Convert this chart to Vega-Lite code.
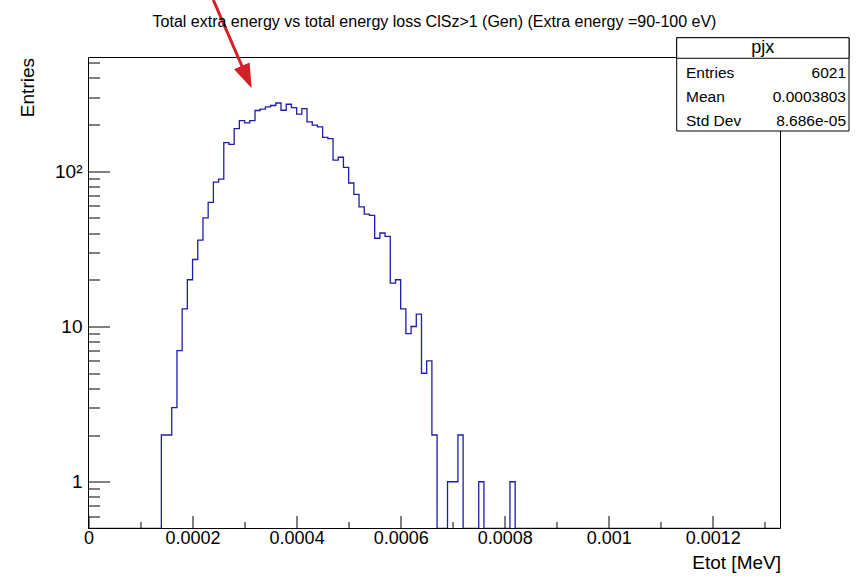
{
  "$schema": "https://vega.github.io/schema/vega-lite/v6.json",
  "width": 692,
  "height": 471,
  "autosize": {"type": "none"},
  "padding": {"left": 88.5, "top": 57.5, "right": 76.5, "bottom": 52.5},
  "background": "white",
  "config": {"view": {"stroke": null}, "font": "Liberation Sans"},
  "title": {
    "text": "Total extra energy vs total energy loss ClSz>1  (Gen) (Extra energy =90-100 eV)",
    "font": "Liberation Sans", "fontSize": 16, "fontWeight": "normal", "color": "#000",
    "anchor": "middle", "frame": "group", "offset": -44.5, "baseline": "alphabetic"
  },
  "resolve": {"scale": {"y": "independent"}},
  "layer": [
    {
      "data": {"values": [
        {"x": 0, "n": 0},
        {"x": 0.00014, "n": 2}, {"x": 0.00015, "n": 2}, {"x": 0.00016, "n": 3}, {"x": 0.00017, "n": 7},
        {"x": 0.00018, "n": 13}, {"x": 0.00019, "n": 20}, {"x": 0.0002, "n": 27}, {"x": 0.00021, "n": 36},
        {"x": 0.00022, "n": 50}, {"x": 0.00023, "n": 63}, {"x": 0.00024, "n": 85}, {"x": 0.00025, "n": 89},
        {"x": 0.00026, "n": 153}, {"x": 0.00027, "n": 149}, {"x": 0.00028, "n": 188}, {"x": 0.00029, "n": 212},
        {"x": 0.0003, "n": 205}, {"x": 0.00031, "n": 212}, {"x": 0.00032, "n": 246}, {"x": 0.00033, "n": 251},
        {"x": 0.00034, "n": 260}, {"x": 0.00035, "n": 265}, {"x": 0.00036, "n": 275}, {"x": 0.00037, "n": 247},
        {"x": 0.00038, "n": 270}, {"x": 0.00039, "n": 257}, {"x": 0.0004, "n": 233}, {"x": 0.00041, "n": 253},
        {"x": 0.00042, "n": 208}, {"x": 0.00043, "n": 198}, {"x": 0.00044, "n": 193}, {"x": 0.00045, "n": 165},
        {"x": 0.00046, "n": 162}, {"x": 0.00047, "n": 118}, {"x": 0.00048, "n": 123}, {"x": 0.00049, "n": 106},
        {"x": 0.0005, "n": 84}, {"x": 0.00051, "n": 71}, {"x": 0.00052, "n": 59}, {"x": 0.00053, "n": 53},
        {"x": 0.00054, "n": 52}, {"x": 0.00055, "n": 37}, {"x": 0.00056, "n": 40}, {"x": 0.00057, "n": 38},
        {"x": 0.00058, "n": 19}, {"x": 0.00059, "n": 20}, {"x": 0.0006, "n": 13}, {"x": 0.00061, "n": 9},
        {"x": 0.00062, "n": 10}, {"x": 0.00063, "n": 12}, {"x": 0.00064, "n": 5}, {"x": 0.00065, "n": 6},
        {"x": 0.00066, "n": 2}, {"x": 0.00067, "n": 0}, {"x": 0.00068, "n": 0}, {"x": 0.00069, "n": 1},
        {"x": 0.0007, "n": 1}, {"x": 0.00071, "n": 2}, {"x": 0.00072, "n": 0}, {"x": 0.00073, "n": 0},
        {"x": 0.00074, "n": 0}, {"x": 0.00075, "n": 1}, {"x": 0.00076, "n": 0}, {"x": 0.00077, "n": 0},
        {"x": 0.00078, "n": 0}, {"x": 0.00079, "n": 0}, {"x": 0.0008, "n": 0}, {"x": 0.00081, "n": 1},
        {"x": 0.00082, "n": 0}, {"x": 0.00133, "n": 0}
      ]},
      "mark": {"type": "line", "interpolate": "step-after", "color": "#1e1ea6", "strokeWidth": 1.3, "clip": true},
      "encoding": {
        "x": {
          "field": "x", "type": "quantitative",
          "scale": {"domain": [0, 0.00133], "nice": false, "zero": false},
          "axis": {
            "values": [0, 0.00005, 0.0001, 0.00015, 0.0002, 0.00025, 0.0003, 0.00035, 0.0004, 0.00045, 0.0005, 0.00055, 0.0006, 0.00065, 0.0007, 0.00075, 0.0008, 0.00085, 0.0009, 0.00095, 0.001, 0.00105, 0.0011, 0.00115, 0.0012, 0.00125, 0.0013],
            "labelExpr": "abs(datum.value*5000 - round(datum.value*5000)) < 0.001 ? (datum.value == 0 ? '0' : format(datum.value, '~g')) : ''",
            "tickSize": {"condition": {"test": "abs(datum.value*5000 - round(datum.value*5000)) < 0.001", "value": -13}, "value": -7},
            "tickColor": "#000", "tickWidth": 1,
            "labelPadding": 14, "labelFontSize": 18, "labelFont": "Liberation Sans", "labelColor": "#000",
            "labelFlush": false, "labelOverlap": false, "labelBound": false,
            "domain": false, "grid": false, "zindex": 1,
            "title": "Etot [MeV]", "titleAnchor": "end", "titleFontSize": 19, "titleFontWeight": "normal",
            "titleFont": "Liberation Sans", "titleColor": "#000", "titlePadding": 0
          }
        },
        "y": {
          "field": "n", "type": "quantitative",
          "scale": {"type": "log", "domain": [0.5, 540], "nice": false, "clamp": true},
          "axis": {
            "orient": "left",
            "values": [0.6, 0.7, 0.8, 0.9, 1, 2, 3, 4, 5, 6, 7, 8, 9, 10, 20, 30, 40, 50, 60, 70, 80, 90, 100, 200, 300, 400, 500],
            "labelExpr": "datum.value == 100 ? '10²' : (datum.value == 10 ? '10' : (datum.value == 1 ? '1' : ''))",
            "tickSize": {"condition": {"test": "datum.value == 1 || datum.value == 10 || datum.value == 100", "value": -21}, "value": -11},
            "tickColor": "#000", "tickWidth": 1,
            "labelPadding": 27.5, "labelFontSize": 19, "labelFont": "Liberation Sans", "labelColor": "#000",
            "labelFlush": false, "labelOverlap": false, "labelBound": false,
            "domain": false, "grid": false, "zindex": 1,
            "title": "Entries", "titleAnchor": "end", "titleFontSize": 19, "titleFontWeight": "normal",
            "titleFont": "Liberation Sans", "titleColor": "#000", "titlePadding": 17
          }
        }
      }
    },
    {
      "layer": [
        {
          "data": {"values": [{}]},
          "mark": {"type": "rect", "fillOpacity": 0, "stroke": "#000", "strokeWidth": 1, "clip": false},
          "encoding": {
            "x": {"datum": 0, "type": "quantitative", "scale": {"domain": [0, 0.00133], "nice": false, "zero": false}},
            "x2": {"datum": 0.00133},
            "y": {"datum": 0.5, "type": "quantitative", "scale": {"type": "log", "domain": [0.5, 540], "nice": false}, "axis": null},
            "y2": {"datum": 540}
          }
        },
        {
          "data": {"values": [{}]},
          "mark": {"type": "rule", "color": "#d42027", "strokeWidth": 3, "clip": false},
          "encoding": {
            "x": {"datum": 0.00023986, "type": "quantitative", "scale": {"domain": [0, 0.00133], "nice": false, "zero": false}},
            "x2": {"datum": 0.00030415},
            "y": {"datum": 1267, "type": "quantitative", "scale": {"type": "log", "domain": [0.5, 540], "nice": false}, "axis": null},
            "y2": {"datum": 404.1}
          }
        },
        {
          "data": {"values": [{}]},
          "mark": {"type": "point", "shape": "M0,1L-0.69,-1L0.69,-1Z", "filled": true, "color": "#d42027", "opacity": 1, "size": 605, "angle": 336.5, "strokeWidth": 0, "clip": false},
          "encoding": {
            "x": {"datum": 0.00030415, "type": "quantitative", "scale": {"domain": [0, 0.00133], "nice": false, "zero": false}},
            "y": {"datum": 404.1, "type": "quantitative", "scale": {"type": "log", "domain": [0.5, 540], "nice": false}, "axis": null}
          }
        },
        {
          "data": {"values": [{}]},
          "mark": {"type": "rect", "fill": "white", "stroke": "#000", "strokeWidth": 1, "clip": false},
          "encoding": {
            "x": {"datum": 0.0011305, "type": "quantitative", "scale": {"domain": [0, 0.00133], "nice": false, "zero": false}},
            "x2": {"datum": 0.0014617},
            "y": {"datum": 724.2, "type": "quantitative", "scale": {"type": "log", "domain": [0.5, 540], "nice": false}, "axis": null},
            "y2": {"datum": 181.6}
          }
        },
        {
          "data": {"values": [{}]},
          "mark": {"type": "rect", "fill": "white", "stroke": "#000", "strokeWidth": 1, "clip": false},
          "encoding": {
            "x": {"datum": 0.0011305, "type": "quantitative", "scale": {"domain": [0, 0.00133], "nice": false, "zero": false}},
            "x2": {"datum": 0.0014617},
            "y": {"datum": 724.2, "type": "quantitative", "scale": {"type": "log", "domain": [0.5, 540], "nice": false}, "axis": null},
            "y2": {"datum": 534}
          }
        },
        {
          "data": {"values": [{"t": "pjx"}]},
          "mark": {"type": "text", "align": "center", "baseline": "middle", "font": "Liberation Sans", "fontSize": 18, "color": "#000", "clip": false},
          "encoding": {
            "x": {"datum": 0.001296, "type": "quantitative", "scale": {"domain": [0, 0.00133], "nice": false, "zero": false}},
            "y": {"datum": 626, "type": "quantitative", "scale": {"type": "log", "domain": [0.5, 540], "nice": false}, "axis": null},
            "text": {"field": "t"}
          }
        },
        {
          "data": {"values": [{"t": "Entries"}]},
          "mark": {"type": "text", "align": "left", "baseline": "middle", "font": "Liberation Sans", "fontSize": 15.5, "color": "#000", "clip": false},
          "encoding": {
            "x": {"datum": 0.0011484, "type": "quantitative", "scale": {"domain": [0, 0.00133], "nice": false, "zero": false}},
            "y": {"datum": 431.1, "type": "quantitative", "scale": {"type": "log", "domain": [0.5, 540], "nice": false}, "axis": null},
            "text": {"field": "t"}
          }
        },
        {
          "data": {"values": [{"t": "Mean"}]},
          "mark": {"type": "text", "align": "left", "baseline": "middle", "font": "Liberation Sans", "fontSize": 15.5, "color": "#000", "clip": false},
          "encoding": {
            "x": {"datum": 0.0011484, "type": "quantitative", "scale": {"domain": [0, 0.00133], "nice": false, "zero": false}},
            "y": {"datum": 301.9, "type": "quantitative", "scale": {"type": "log", "domain": [0.5, 540], "nice": false}, "axis": null},
            "text": {"field": "t"}
          }
        },
        {
          "data": {"values": [{"t": "Std Dev"}]},
          "mark": {"type": "text", "align": "left", "baseline": "middle", "font": "Liberation Sans", "fontSize": 15.5, "color": "#000", "clip": false},
          "encoding": {
            "x": {"datum": 0.0011484, "type": "quantitative", "scale": {"domain": [0, 0.00133], "nice": false, "zero": false}},
            "y": {"datum": 212.1, "type": "quantitative", "scale": {"type": "log", "domain": [0.5, 540], "nice": false}, "axis": null},
            "text": {"field": "t"}
          }
        },
        {
          "data": {"values": [{"t": "6021"}]},
          "mark": {"type": "text", "align": "right", "baseline": "middle", "font": "Liberation Sans", "fontSize": 15.5, "color": "#000", "clip": false},
          "encoding": {
            "x": {"datum": 0.0014559, "type": "quantitative", "scale": {"domain": [0, 0.00133], "nice": false, "zero": false}},
            "y": {"datum": 431.1, "type": "quantitative", "scale": {"type": "log", "domain": [0.5, 540], "nice": false}, "axis": null},
            "text": {"field": "t"}
          }
        },
        {
          "data": {"values": [{"t": "0.0003803"}]},
          "mark": {"type": "text", "align": "right", "baseline": "middle", "font": "Liberation Sans", "fontSize": 15.5, "color": "#000", "clip": false},
          "encoding": {
            "x": {"datum": 0.0014559, "type": "quantitative", "scale": {"domain": [0, 0.00133], "nice": false, "zero": false}},
            "y": {"datum": 301.9, "type": "quantitative", "scale": {"type": "log", "domain": [0.5, 540], "nice": false}, "axis": null},
            "text": {"field": "t"}
          }
        },
        {
          "data": {"values": [{"t": "8.686e-05"}]},
          "mark": {"type": "text", "align": "right", "baseline": "middle", "font": "Liberation Sans", "fontSize": 15.5, "color": "#000", "clip": false},
          "encoding": {
            "x": {"datum": 0.0014559, "type": "quantitative", "scale": {"domain": [0, 0.00133], "nice": false, "zero": false}},
            "y": {"datum": 212.1, "type": "quantitative", "scale": {"type": "log", "domain": [0.5, 540], "nice": false}, "axis": null},
            "text": {"field": "t"}
          }
        }
      ]
    }
  ]
}
